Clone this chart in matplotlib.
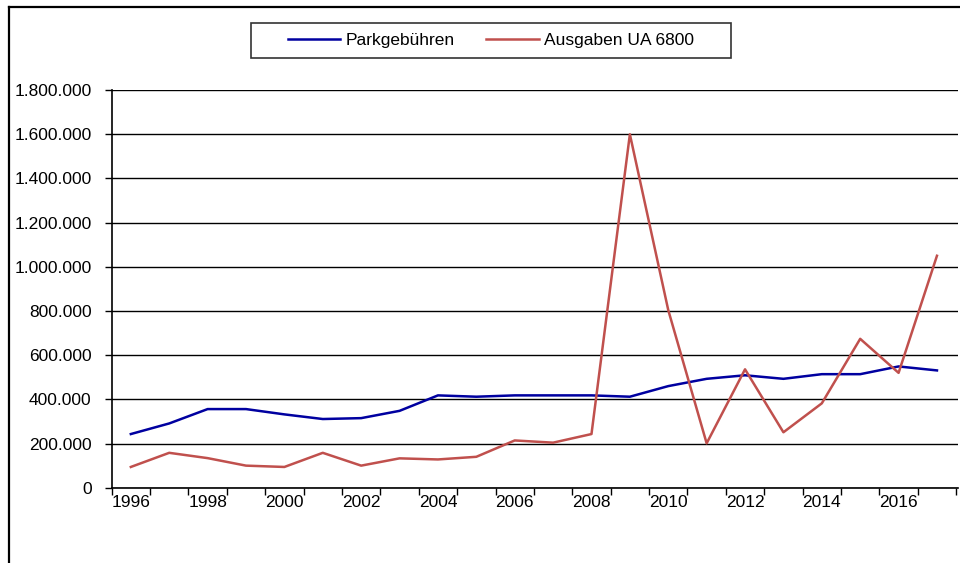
import matplotlib
matplotlib.use("Agg")
import matplotlib.pyplot as plt
from matplotlib.patches import Rectangle
from matplotlib.lines import Line2D
from matplotlib.ticker import FuncFormatter, FixedLocator

years = list(range(1996, 2018))
parkgebuehren = [243000, 291000, 356000, 356000, 332000, 311000, 315000, 348000,
                 418000, 412000, 418000, 418000, 418000, 412000, 460000, 493000,
                 509000, 493000, 514000, 514000, 549000, 531000]
ausgaben = [94000, 158000, 134000, 100000, 94000, 158000, 100000, 133000,
            128000, 140000, 214000, 204000, 243000, 1600000, 804000, 201000,
            536000, 251000, 382000, 674000, 520000, 1050000]
series_names = ["Parkgebühren", "Ausgaben UA 6800"]
y_ticks = [0, 200000, 400000, 600000, 800000, 1000000, 1200000, 1400000, 1600000, 1800000]

plt.rcParams['font.family'] = ['Liberation Sans', 'DejaVu Sans']
fs = 12.5

fig = plt.figure(figsize=(9.6, 5.63), dpi=100)
ax = fig.add_axes([0.1163, 0.1337, 0.998 - 0.1163, 0.840 - 0.1337])

x = list(range(len(years)))
l1, = ax.plot(x, parkgebuehren, color="#0000A0", lw=1.8, label=series_names[0])
l2, = ax.plot(x, ausgaben, color="#C0504D", lw=1.8, label=series_names[1])

ax.set_xlim(-0.5, len(years) - 0.5 + 0.05)
ax.set_ylim(0, 1800000)

# category axis: ticks between categories, labels every 2nd year
ax.xaxis.set_major_locator(FixedLocator([i - 0.5 for i in range(len(years) + 1)]))
ax.xaxis.set_major_formatter(FuncFormatter(lambda v, p: ""))
ax.xaxis.set_minor_locator(FixedLocator(x[::2]))
ax.set_xticklabels([str(y) for y in years[::2]], minor=True)
ax.tick_params(axis='x', which='major', direction='out', length=5, width=1, color='black')
ax.tick_params(axis='x', which='minor', length=0, pad=5, labelsize=fs)

ax.set_yticks(y_ticks)
ax.yaxis.set_major_formatter(FuncFormatter(lambda v, p: f"{int(v):,}".replace(",", ".")))
ax.tick_params(axis='y', direction='out', length=5, width=1, pad=9.5, labelsize=fs)

ax.grid(axis='y', color='black', lw=1)
ax.set_axisbelow(True)
for s in ['top', 'right']:
    ax.spines[s].set_visible(False)
for s in ['left', 'bottom']:
    ax.spines[s].set_linewidth(1.2)

# legend box
fig.patches.append(Rectangle((250.7 / 960, 1 - 58.3 / 563), (731 - 250.7) / 960, 35.6 / 563,
                             transform=fig.transFigure, fill=False, edgecolor='#333333', lw=1.2))
fig.legend(handles=[l1, l2], loc='center', bbox_to_anchor=(0.5113, 0.928),
           bbox_transform=fig.transFigure, ncol=2, frameon=False, fontsize=fs,
           handlelength=3.0, handletextpad=0.3, columnspacing=1.85, borderpad=0.2)

# outer chart frame (only top and left edges visible in the crop)
x0 = 9.3 / 960
y0 = 1 - 7.3 / 563
fig.lines.append(Line2D([x0, 1.0], [y0, y0], transform=fig.transFigure, color='black', lw=1.6))
fig.lines.append(Line2D([x0, x0], [0, y0], transform=fig.transFigure, color='black', lw=1.6))

fig.savefig("out.png", dpi=100)
